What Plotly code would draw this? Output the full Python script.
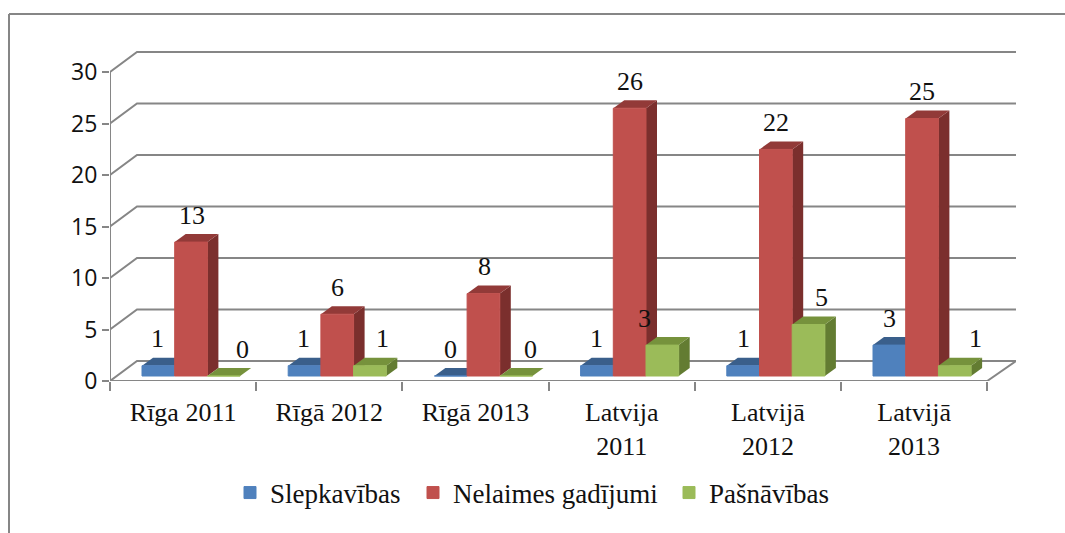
import plotly.graph_objects as go

W, H = 1065, 533
categories = ["Rīga 2011", "Rīgā 2012", "Rīgā 2013", "Latvija<br>2011", "Latvijā<br>2012", "Latvijā<br>2013"]
slepkavibas = [1, 1, 0, 1, 1, 3]
nelaimes = [13, 6, 8, 26, 22, 25]
pasnavibas = [0, 1, 0, 3, 5, 1]
y_ticks = [0, 5, 10, 15, 20, 25, 30]

# label nudges (px), layout only
shift_slepkavibas = [-1, -1, 0, 0, 0, 0]
shift_nelaimes = [1, 0, 1, 0, 0, 0]
shift_pasnavibas = [19, 13, 14, -18, 13, 21]

# geometry
PX_CAT, PX_UNIT = 146.2, 10.3
X0, X1, Y0, Y1 = 110, 1016, 381, 51
WALL_DX, WALL_DY = 27 / PX_CAT, 20 / PX_UNIT
BAR_W, BAR_START = 32.7 / PX_CAT, 32 / PX_CAT
BAR_DX, BAR_DY = 11 / PX_CAT, 8 / PX_UNIT
BAR_BASE = 5 / PX_UNIT
x_range = [0, (X1 - X0) / PX_CAT]
y_range = [0, (Y0 - Y1) / PX_UNIT]
GRID = "#868686"
SERIF = "Liberation Serif"
TXT = "#111111"

series = [
    ("Slepkavības", slepkavibas, "#4F81BD", "#3A5F8B", "#34557C", shift_slepkavibas, "legend", 230),
    ("Nelaimes gadījumi", nelaimes, "#C0504D", "#923A38", "#7B2F2D", shift_nelaimes, "legend2", 413),
    ("Pašnāvības", pasnavibas, "#9BBB59", "#76923C", "#637C32", shift_pasnavibas, "legend3", 669),
]

fig = go.Figure()


def line(xs, ys):
    fig.add_trace(go.Scatter(x=xs, y=ys, mode="lines", line=dict(color=GRID, width=2),
                             showlegend=False, hoverinfo="skip"))


# walls and floor
for v in y_ticks:
    line([0, WALL_DX, x_range[1]], [v, v + WALL_DY, v + WALL_DY])
line([0, 0], [0, y_ticks[-1]])
line([0, len(categories), x_range[1]], [0, 0, WALL_DY])

# depth faces, drawn back-to-front by series
for k, (name, vals, front, top, side, shifts, leg, lx) in enumerate(series):
    for i, v in enumerate(vals):
        a = i + BAR_START + k * BAR_W
        b = a + BAR_W
        t = BAR_BASE + v
        fig.add_trace(go.Scatter(
            x=[b, b + BAR_DX, b + BAR_DX, b, b], y=[BAR_BASE, BAR_BASE + BAR_DY, t + BAR_DY, t, BAR_BASE],
            fill="toself", fillcolor=side, mode="lines", line=dict(width=0, color=side),
            showlegend=False, hoverinfo="skip"))
        fig.add_trace(go.Scatter(
            x=[a, b, b + BAR_DX, a + BAR_DX, a], y=[t, t, t + BAR_DY, t + BAR_DY, t],
            fill="toself", fillcolor=top, mode="lines", line=dict(width=0, color=top),
            showlegend=False, hoverinfo="skip"))

# front faces on an overlay axis pair so they sit over the depth faces
annotations = []
for k, (name, vals, front, top, side, shifts, leg, lx) in enumerate(series):
    xs = [i + BAR_START + k * BAR_W + BAR_W / 2 for i in range(len(categories))]
    fig.add_trace(go.Bar(x=xs, y=vals, base=BAR_BASE, width=BAR_W, name=name, xaxis="x2", yaxis="y2",
                         marker=dict(color=front, line=dict(width=1, color=front)), legend=leg))
    for x, v, s in zip(xs, vals, shifts):
        annotations.append(dict(x=x, y=v + BAR_BASE, xref="x", yref="y", text=str(v), showarrow=False,
                                xshift=s, yshift=27, yanchor="middle",
                                font=dict(family=SERIF, size=26, color=TXT)))

legend_base = dict(orientation="h", yref="paper", y=(H - 493) / H, yanchor="middle", xanchor="left",
                   bgcolor="rgba(0,0,0,0)", font=dict(family=SERIF, size=27, color=TXT),
                   tracegroupgap=0)
legends = {s[6]: dict(legend_base, x=s[7] / W) for s in series}

axis_dom_x = [X0 / W, X1 / W]
axis_dom_y = [(H - Y0) / H, (H - Y1) / H]
fig.update_layout(
    width=W, height=H, margin=dict(l=0, r=0, t=0, b=0, autoexpand=False), autosize=False,
    paper_bgcolor="white", plot_bgcolor="rgba(0,0,0,0)", barmode="overlay",
    annotations=annotations,
    xaxis=dict(domain=axis_dom_x, range=x_range, showgrid=False, zeroline=False, showline=False,
               tickmode="array", tickvals=[i + 0.5 for i in range(len(categories))], ticktext=categories,
               ticks="", tickfont=dict(family=SERIF, size=26, color=TXT), tickangle=0,
               minor=dict(tickmode="array", tickvals=list(range(len(categories) + 1)), ticks="outside",
                          ticklen=9, tickwidth=2, tickcolor=GRID, showgrid=False),
               ticklabelstandoff=13),
    yaxis=dict(domain=axis_dom_y, range=y_range, showgrid=False, zeroline=False, showline=False,
               tickmode="array", tickvals=y_ticks, ticks="outside", ticklen=7, tickwidth=2, tickcolor=GRID,
               tickfont=dict(family="Open Sans", size=23, color=TXT)),
    xaxis2=dict(domain=axis_dom_x, range=x_range, overlaying="x", visible=False),
    yaxis2=dict(domain=axis_dom_y, range=y_range, overlaying="y", visible=False),
    shapes=[
        dict(type="line", xref="paper", yref="paper", x0=9 / W, x1=9 / W, y0=0, y1=(H - 14) / H,
             line=dict(color=GRID, width=2)),
        dict(type="line", xref="paper", yref="paper", x0=9 / W, x1=1, y0=(H - 14) / H, y1=(H - 14) / H,
             line=dict(color=GRID, width=2)),
    ],
    **legends,
)
fig.write_html("out.html", post_script="document.body.style.margin='0';", config={"displayModeBar": False})
